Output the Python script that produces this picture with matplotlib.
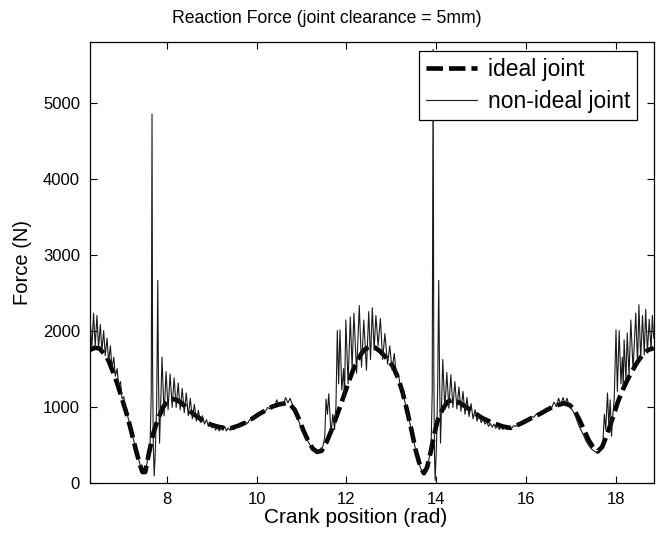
import matplotlib
matplotlib.use("Agg")
import matplotlib.pyplot as plt

plt.rcParams['font.family'] = ['Liberation Sans', 'DejaVu Sans']

title = "Reaction Force (joint clearance = 5mm)"
xlabel = "Crank position (rad)"
ylabel = "Force (N)"
labels = ["ideal joint", "non-ideal joint"]
xticks = [8, 10, 12, 14, 16, 18]
yticks = [0, 1000, 2000, 3000, 4000, 5000]
xlim = (6.283, 18.85)
ylim = (0, 5800)

ideal_x = [6.283, 6.40, 6.50, 6.60, 6.70, 6.80, 6.90, 7.00, 7.10, 7.20, 7.30, 7.40, 7.46, 7.52,
           7.60, 7.70, 7.80, 7.90, 8.00, 8.10, 8.20, 8.30, 8.40, 8.50, 8.60, 8.70, 8.80, 8.90,
           9.00, 9.15, 9.30, 9.45, 9.60, 9.75, 9.90, 10.05, 10.20, 10.35, 10.50, 10.65, 10.75,
           10.85, 10.95, 11.05, 11.15, 11.25, 11.35, 11.45, 11.55, 11.65, 11.75, 11.85, 11.95,
           12.05, 12.15, 12.25, 12.35, 12.45, 12.55, 12.65, 12.75, 12.85, 12.95, 13.05, 13.15,
           13.25, 13.35, 13.45, 13.55, 13.65, 13.73, 13.80, 13.88, 13.96, 14.05, 14.15, 14.25,
           14.36, 14.50, 14.66, 14.85, 15.03, 15.25, 15.48, 15.66, 15.90, 16.11, 16.30, 16.48,
           16.65, 16.85, 16.98, 17.08, 17.20, 17.30, 17.40, 17.49, 17.60, 17.70, 17.79, 17.90,
           17.97, 18.05, 18.15, 18.27, 18.38, 18.49, 18.60, 18.72, 18.85]
ideal_y = [1745, 1775, 1765, 1700, 1610, 1460, 1300, 1110, 920, 700, 460, 240, 140, 140,
           380, 650, 830, 970, 1070, 1100, 1095, 1060, 1010, 950, 900, 860, 820, 785,
           760, 735, 718, 720, 750, 790, 840, 900, 950, 1000, 1030, 1045, 1030,
           960, 830, 680, 550, 450, 405, 420, 520, 660, 820, 980, 1150,
           1320, 1480, 1610, 1710, 1770, 1790, 1775, 1730, 1670, 1600, 1520, 1380,
           1200, 960, 700, 420, 210, 125, 200, 400, 640, 850, 970, 1060,
           1090, 1060, 1000, 920, 850, 790, 740, 720, 780, 845, 900, 960,
           1010, 1045, 1020, 960, 820, 690, 560, 475, 410, 470, 600, 790,
           910, 1060, 1210, 1360, 1480, 1590, 1680, 1745, 1770]

real_x = [6.283, 6.295, 6.33, 6.37, 6.405, 6.445, 6.48, 6.52, 6.555, 6.595, 6.63, 6.67, 6.705,
          6.745, 6.78, 6.82, 6.855, 6.895, 6.93, 6.97, 7.005, 7.045, 7.08, 7.12, 7.16, 7.20,
          7.25, 7.30, 7.35, 7.40, 7.45, 7.50, 7.55, 7.60, 7.63, 7.655, 7.672, 7.685, 7.70, 7.72,
          7.745, 7.775, 7.80, 7.815, 7.84, 7.895, 7.94, 7.985, 8.03, 8.075, 8.12, 8.165, 8.21,
          8.255, 8.30, 8.345, 8.39, 8.435, 8.48, 8.525, 8.57, 8.615, 8.66, 8.705, 8.75, 8.795,
          8.84, 8.885, 8.93, 8.975, 9.01, 9.05, 9.09, 9.13, 9.17, 9.21, 9.25, 9.29, 9.33, 9.37,
          9.41, 9.45, 9.50, 9.55, 9.60, 9.65, 9.70, 9.75, 9.80, 9.85, 9.90, 9.95, 10.00, 10.05,
          10.10, 10.15, 10.20, 10.25, 10.30, 10.35, 10.40, 10.45, 10.50, 10.55, 10.60, 10.65,
          10.70, 10.75, 10.79, 10.83, 10.88, 10.93, 10.98, 11.03, 11.08, 11.13, 11.18, 11.23,
          11.28, 11.33, 11.38, 11.43, 11.48, 11.52, 11.55, 11.58, 11.61, 11.66, 11.70, 11.74,
          11.77, 11.80, 11.83, 11.86, 11.90, 11.94, 11.96, 11.99, 12.04, 12.09, 12.13, 12.17,
          12.23, 12.29, 12.34, 12.39, 12.45, 12.50, 12.54, 12.58, 12.62, 12.66, 12.71, 12.76,
          12.81, 12.86, 12.92, 12.97, 13.02, 13.07, 13.12, 13.16, 13.21, 13.25, 13.30, 13.35,
          13.40, 13.45, 13.50, 13.55, 13.60, 13.65, 13.70, 13.75, 13.80, 13.85, 13.89, 13.915,
          13.935, 13.95, 13.965, 13.98, 14.01, 14.035, 14.06, 14.08, 14.10, 14.15, 14.195,
          14.24, 14.285, 14.33, 14.375, 14.42, 14.465, 14.51, 14.555, 14.60, 14.645, 14.69,
          14.735, 14.78, 14.825, 14.87, 14.915, 14.96, 15.005, 15.05, 15.09, 15.13, 15.17,
          15.21, 15.25, 15.29, 15.33, 15.37, 15.41, 15.45, 15.49, 15.53, 15.58, 15.63, 15.68,
          15.73, 15.78, 15.83, 15.88, 15.93, 15.98, 16.03, 16.08, 16.13, 16.18, 16.23, 16.28,
          16.33, 16.38, 16.43, 16.48, 16.53, 16.58, 16.63, 16.68, 16.73, 16.78, 16.83, 16.88,
          16.92, 16.95, 16.99, 17.04, 17.09, 17.14, 17.19, 17.24, 17.29, 17.34, 17.39, 17.44,
          17.49, 17.54, 17.59, 17.64, 17.69, 17.72, 17.75, 17.78, 17.82, 17.85, 17.88, 17.91,
          17.94, 17.97, 18.01, 18.04, 18.08, 18.12, 18.15, 18.17, 18.19, 18.23, 18.26, 18.30,
          18.34, 18.39, 18.45, 18.49, 18.52, 18.56, 18.60, 18.64, 18.67, 18.71, 18.75, 18.79,
          18.82, 18.85]
real_y = [1900, 2150, 1760, 2230, 1790, 2200, 1770, 2080, 1730, 2000, 1670, 1900, 1590,
          1800, 1500, 1650, 1400, 1500, 1270, 1330, 1100, 1130, 960, 900, 800, 700,
          590, 470, 360, 250, 160, 140, 230, 380, 520, 1200, 4850, 1500, 500, 90,
          400, 1000, 2660, 1400, 520, 1650, 880, 1460, 960, 1430, 990, 1380, 990,
          1310, 960, 1240, 920, 1180, 880, 1110, 840, 1030, 810, 950, 790, 880,
          770, 830, 740, 790, 720, 760, 690, 740, 680, 730, 690, 740, 680, 720,
          690, 730, 700, 740, 730, 770, 750, 800, 780, 830, 820, 870, 860, 910,
          900, 950, 940, 990, 970, 1020, 1000, 1090, 1020, 1060, 1040, 1120,
          1050, 1110, 1040, 1000, 920, 830, 740, 680, 620, 560, 510, 460,
          430, 410, 400, 430, 480, 600, 1100, 900, 1170, 640, 900, 700,
          1000, 2000, 1300, 2010, 1220, 1500, 1100, 2140, 1300, 2180, 1500, 2230,
          1440, 2330, 1520, 2140, 1480, 2250, 1620, 2300, 1740, 2200, 1800, 2160,
          1620, 1960, 1560, 1800, 1480, 1700, 1380, 1440, 1230, 1250, 1080, 950,
          820, 700, 560, 420, 300, 200, 140, 130, 200, 330, 480, 1200,
          5700, 1500, 400, 30, 500, 1200, 2660, 1300, 520, 1620, 960,
          1450, 980, 1420, 990, 1330, 970, 1260, 940, 1200, 900, 1120,
          870, 1040, 840, 960, 810, 900, 790, 840, 770, 800, 740,
          780, 730, 770, 715, 750, 700, 740, 700, 730, 700, 740, 710,
          750, 740, 780, 770, 810, 800, 840, 830, 870, 860, 900, 890,
          930, 920, 970, 950, 1000, 990, 1060, 1000, 1110, 1030, 1120, 1040,
          1110, 1040, 1000, 950, 900, 820, 740, 680, 620, 550, 500, 460,
          430, 410, 400, 420, 480, 560, 900, 700, 1180, 740, 1090, 610,
          900, 1100, 2010, 1200, 2000, 1300, 1650, 1250, 1880, 1350, 1970, 1400,
          2140, 1480, 2230, 1550, 2340, 1620, 2200, 1680, 2280, 1720, 2150, 1740,
          2200, 1900]

fig = plt.figure(figsize=(6.57, 5.38), dpi=100)
ax = fig.add_axes([0.1365, 0.1028, 0.8585, 0.8197])

ax.plot(ideal_x, ideal_y, color='black', linewidth=3.3, dashes=(3.6, 1.3),
        label=labels[0], zorder=2)
ax.plot(real_x, real_y, color='#1a1a1a', linewidth=0.8, label=labels[1], zorder=3)

ax.set_xlim(*xlim)
ax.set_ylim(*ylim)
ax.set_xticks(xticks)
ax.set_yticks(yticks)
ax.tick_params(direction='in', top=True, right=True, length=5, width=0.8,
               labelsize=12, pad=7)
for s in ax.spines.values():
    s.set_linewidth(0.9)

fig.text(0.497, 0.966, title, fontsize=12.7, ha='center', va='center')
ax.set_xlabel(xlabel, fontsize=15)
ax.xaxis.set_label_coords(0.472, -0.079)
ax.xaxis.label.set_va('center')
ax.set_ylabel(ylabel, fontsize=14.5, labelpad=8)

leg = ax.legend(loc='upper right', bbox_to_anchor=(0.971, 0.9796), borderaxespad=0,
                fontsize=16.5, fancybox=False, framealpha=1, edgecolor='black',
                handlelength=2.2, handletextpad=0.5, borderpad=0.3, labelspacing=0.4)
leg.get_frame().set_linewidth(0.9)

fig.savefig('out.png', dpi=100)
